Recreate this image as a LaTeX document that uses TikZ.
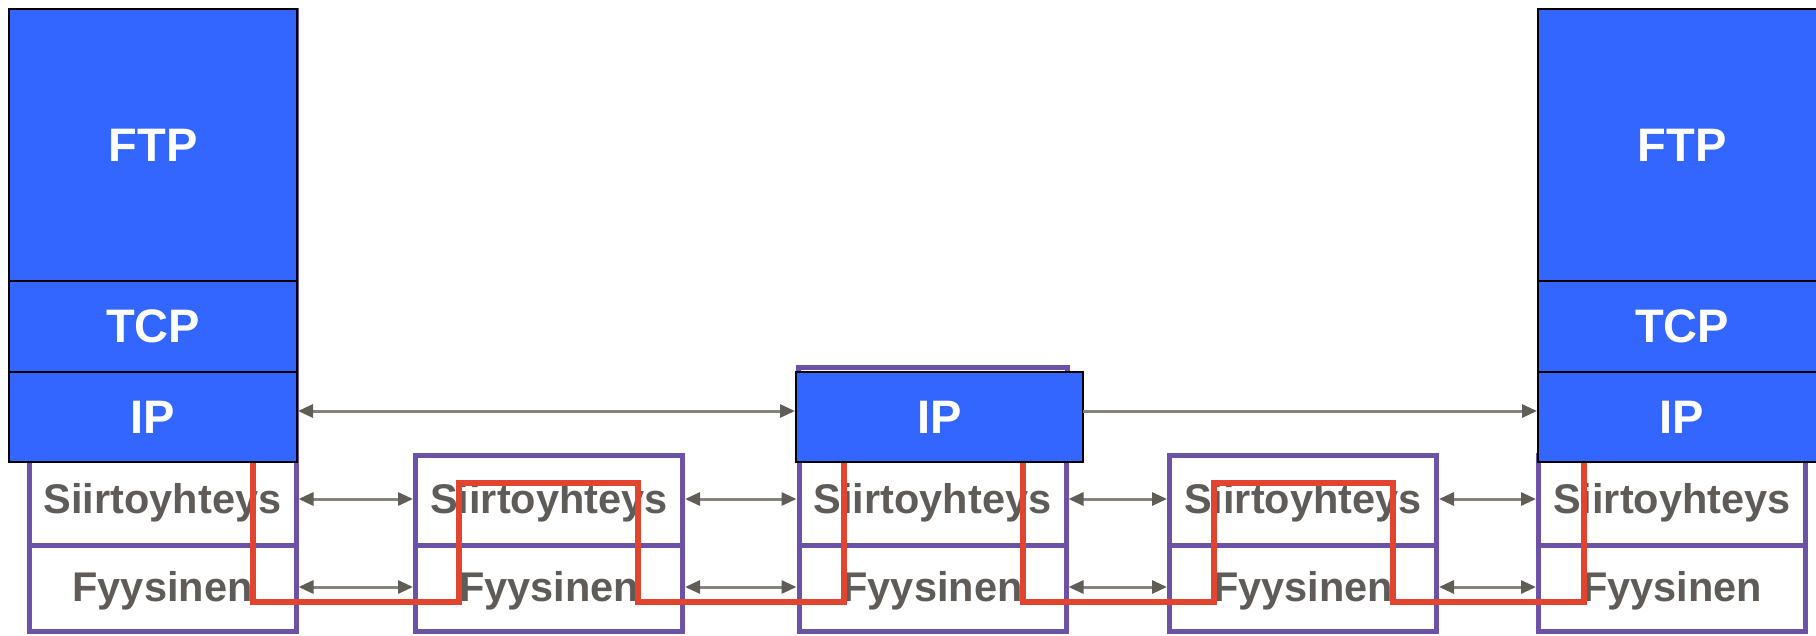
\documentclass[tikz,border=0pt]{standalone}
\usepackage{fontspec}
\setmainfont{Liberation Sans}
\usetikzlibrary{arrows.meta}
\definecolor{ipblue}{HTML}{3366FF}
\definecolor{lpurple}{HTML}{6B52A6}
\definecolor{rline}{HTML}{E2452F}
\definecolor{tgray}{HTML}{5F5B58}
\definecolor{agray}{HTML}{86827D}
\definecolor{hgray}{HTML}{605D57}
\begin{document}
\begin{tikzpicture}[x=1pt,y=-1pt,
  layer/.style={draw=black, line width=2pt, fill=ipblue, inner sep=0pt, outer sep=0pt,
    text=white, font=\bfseries\fontsize{47}{47}\selectfont},
  row/.style={draw=lpurple, line width=5pt, minimum width=267pt, inner sep=0pt, outer sep=0pt,
    text=tgray, font=\bfseries\fontsize{41.5}{41.5}\selectfont, text height=30pt, text depth=3pt},
  srow/.style={row, minimum height=90pt},
  frow/.style={row, minimum height=86pt},
  upper/.style={draw=lpurple, line width=5pt},
  tip/.style={Triangle[length=15pt,width=13pt,color=hgray]},
  arr/.style={draw=agray, line width=3pt, {Triangle[length=15pt,width=13pt,color=hgray]}-{Triangle[length=15pt,width=13pt,color=hgray]}},
  arrone/.style={draw=agray, line width=3pt, -{Triangle[length=15pt,width=13pt,color=hgray]}},
  redpath/.style={draw=rline, line width=6.5pt}
]
\clip (0,0) rectangle (1816,635);
\fill[white] (0,0) rectangle (1816,635);

% purple outlines of the full stacks (mostly hidden behind blue)
\draw[upper] (30,10) rectangle (296,455);
\draw[upper] (798,367) rectangle (1067,455);
\draw[upper] (1539,10) rectangle (1805,455);

% link / physical rows
\node[srow] (s1) at (162.5,500) {Siirtoyhteys};
\node[frow] (f1) at (162.5,588) {Fyysinen};
\node[srow] (s2) at (549,500) {Siirtoyhteys};
\node[frow] (f2) at (549,588) {Fyysinen};
\node[srow] (s3) at (932.5,500) {Siirtoyhteys};
\node[frow] (f3) at (932.5,588) {Fyysinen};
\node[srow] (s4) at (1303,500) {Siirtoyhteys};
\node[frow] (f4) at (1303,588) {Fyysinen};
\node[srow] (s5) at (1672,500) {Siirtoyhteys};
\node[frow] (f5) at (1672,588) {Fyysinen};

% blue protocol layers
\node[layer, minimum width=288pt, minimum height=272pt] (ftp1) at (153,145) {FTP};
\node[layer, minimum width=288pt, minimum height=91pt] (tcp1) at (153,326.5) {TCP};
\node[layer, minimum width=288pt, minimum height=90pt] (ip1) at (153,417) {IP};
\node[layer, minimum width=287pt, minimum height=90pt] (ip3) at (939.5,417) {IP};
\node[layer, minimum width=288pt, minimum height=272pt] (ftp5) at (1682,145) {FTP};
\node[layer, minimum width=288pt, minimum height=91pt] (tcp5) at (1682,326.5) {TCP};
\node[layer, minimum width=288pt, minimum height=90pt] (ip5) at (1682,417) {IP};

% arrows
\draw[arr, shorten <=1pt, shorten >=1pt] ([yshift=6pt]ip1.east) -- ([yshift=6pt]ip3.west);
\draw[arrone, shorten >=1pt] ([yshift=6pt]ip3.east) -- ([yshift=6pt]ip5.west);
\foreach \a/\b in {1/2,2/3,3/4,4/5}{
  \draw[arr, shorten <=2.5pt, shorten >=2.5pt] ([yshift=1pt]s\a.east) -- ([yshift=1pt]s\b.west);
  \draw[arr, shorten <=2.5pt, shorten >=2.5pt] ([yshift=1pt]f\a.east) -- ([yshift=1pt]f\b.west);
}

% data path
\draw[redpath] (253,463) |- (459,602) |- (638,483) |- (844,602) -- (844,463);
\draw[redpath] (1023,463) |- (1214,602) |- (1393,483) |- (1584,602) -- (1584,463);
\end{tikzpicture}
\end{document}
